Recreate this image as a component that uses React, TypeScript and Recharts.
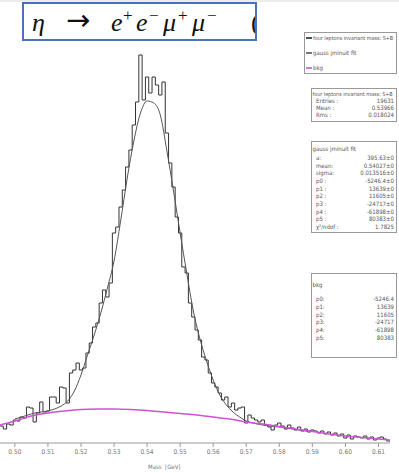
import React from "react";
import { ComposedChart, Line, XAxis, YAxis } from "recharts";

// Histogram: bins of width 0.001 starting at 0.4955
const binStart = 0.4955;
const binWidth = 0.001;
const histCounts = [
  17, 14, 19, 18, 23, 22, 26, 25, 36, 35,
  21, 30, 41, 31, 32, 46, 46, 40, 56, 55,
  40, 70, 73, 80, 73, 75, 90, 100, 116, 120,
  140, 153, 146, 160, 210, 216, 236, 253, 276, 293,
  318, 341, 388, 343, 366, 350, 366, 358, 348, 361,
  310, 280, 256, 226, 210, 176, 170, 140, 126, 113,
  103, 86, 83, 70, 60, 56, 50, 43, 46, 36,
  40, 33, 35, 36, 20, 28, 25, 23, 21, 23,
  18, 16, 13, 18, 20, 17, 14, 18, 15, 13,
  16, 12, 14, 11, 13, 12, 10, 12, 9, 11,
  8, 10, 7, 9, 5, 8, 4, 7, 6, 5,
  7, 4, 6, 3, 5, 6, 4, 2,
];

const fitX = [
  0.5, 0.502, 0.504, 0.506, 0.508, 0.51, 0.512, 0.514, 0.516, 0.518,
  0.52, 0.522, 0.524, 0.526, 0.528, 0.53, 0.532, 0.534, 0.536, 0.538,
  0.54, 0.542, 0.544, 0.546, 0.548, 0.55, 0.552, 0.554, 0.556, 0.558,
  0.56, 0.562, 0.564, 0.566, 0.568, 0.57, 0.572, 0.574, 0.576, 0.578,
  0.58, 0.582, 0.584, 0.586, 0.588, 0.59,
];
const fitY = [
  24, 26, 28, 30, 31, 32, 34, 37, 42, 52,
  68, 88, 108, 130, 155, 182, 222, 265, 302, 330,
  342, 340, 328, 292, 252, 210, 170, 132, 104, 82,
  63, 48, 38, 31, 26, 22, 20, 18.5, 17.5, 16.5,
  16, 15, 14, 13, 12, 11.5,
];

const bkgX = [
  0.4955, 0.5, 0.505, 0.51, 0.515, 0.52, 0.525, 0.53, 0.535, 0.54,
  0.545, 0.55, 0.555, 0.56, 0.565, 0.57, 0.575, 0.58, 0.585, 0.59,
  0.595, 0.6, 0.605, 0.61, 0.6135,
];
const bkgY = [
  18, 22, 27, 30, 32, 33.5, 34, 34, 33.5, 32.5,
  31, 29.5, 28, 26, 24, 21, 19, 16.5, 14, 11.5,
  9, 7, 5.5, 4, 3,
];

const xTicks = [0.5, 0.51, 0.52, 0.53, 0.54, 0.55, 0.56, 0.57, 0.58, 0.59, 0.6, 0.61];

const legendItems = [
  { label: "four leptons invariant mass: S+B", color: "#222" },
  { label: "gauss jminuit fit", color: "#555" },
  { label: "bkg", color: "#d050d8" },
];
const stats1Title = "four leptons invariant mass: S+B";
const stats1 = [
  ["Entries :", "19631"],
  ["Mean :", "0.53966"],
  ["Rms :", "0.018024"],
];
const stats2Title = "gauss jminuit fit";
const stats2 = [
  ["a:", "395.63±0"],
  ["mean:", "0.54027±0"],
  ["sigma:", "0.013516±0"],
  ["p0 :", "-5246.4±0"],
  ["p1 :", "13639±0"],
  ["p2 :", "11605±0"],
  ["p3 :", "-24717±0"],
  ["p4 :", "-61898±0"],
  ["p5 :", "80383±0"],
  ["χ²/ndof :", "1.7825"],
];
const stats3Title = "bkg";
const stats3 = [
  ["p0:", "-5246.4"],
  ["p1:", "13639"],
  ["p2:", "11605"],
  ["p3:", "-24717"],
  ["p4:", "-61898"],
  ["p5:", "80383"],
];

const histData = [
  ...histCounts.map((c, i) => ({ x: binStart + i * binWidth, y: c })),
  { x: binStart + histCounts.length * binWidth, y: histCounts[histCounts.length - 1] },
];
const fitData = fitX.map((x, i) => ({ x, y: fitY[i] }));
const bkgData = bkgX.map((x, i) => ({ x, y: bkgY[i] }));

const smallFont = "'DejaVu Sans Condensed', 'DejaVu Sans', sans-serif";
const mathFont = "'Liberation Serif', 'DejaVu Serif', serif";

function StatBox({
  top,
  height,
  title,
  titleSize,
  titleBase,
  rows,
  firstBase,
  step,
}: {
  top: number;
  height: number;
  title: string;
  titleSize?: number;
  titleBase: number;
  rows: string[][];
  firstBase: number;
  step: number;
}) {
  return (
    <g>
      <rect x={311.5} y={top + 0.5} width={85} height={height} fill="#fff" stroke="#999" strokeWidth={1} />
      <text x={312.5} y={titleBase} fontSize={titleSize ?? 6}>
        {title}
      </text>
      {rows.map((r, i) => (
        <g key={i}>
          <text x={316} y={firstBase + i * step}>
            {r[0]}
          </text>
          <text x={394} y={firstBase + i * step} textAnchor="end">
            {r[1]}
          </text>
        </g>
      ))}
    </g>
  );
}

export default function App() {
  return (
    <div
      style={{
        position: "absolute",
        left: 0,
        top: 0,
        width: 399,
        height: 473,
        background: "#fff",
        overflow: "hidden",
      }}
    >
      <div style={{ position: "absolute", left: 0, top: 0 }}>
        <ComposedChart
          width={390}
          height={473}
          margin={{ top: 8, right: 0, bottom: 0, left: 0 }}
        >
          <XAxis
            type="number"
            dataKey="x"
            domain={[0.4955, 0.6135]}
            allowDataOverflow
            ticks={xTicks}
            tickFormatter={(v: number) => v.toFixed(2)}
            height={30}
            stroke="#999"
            tickSize={4}
            tick={{ fontSize: 6.5, fill: "#777", fontFamily: smallFont }}
          />
          <YAxis type="number" domain={[0, 435]} hide allowDataOverflow />
          <Line
            data={histData}
            dataKey="y"
            type="stepAfter"
            stroke="#333"
            strokeWidth={1}
            dot={false}
            isAnimationActive={false}
          />
          <Line
            data={fitData}
            dataKey="y"
            type="monotone"
            stroke="#555"
            strokeWidth={1}
            dot={false}
            isAnimationActive={false}
          />
          <Line
            data={bkgData}
            dataKey="y"
            type="monotone"
            stroke="#d050d8"
            strokeWidth={1.5}
            dot={false}
            isAnimationActive={false}
          />
        </ComposedChart>
      </div>
      <svg
        width={399}
        height={473}
        style={{ position: "absolute", left: 0, top: 0, pointerEvents: "none" }}
      >
        <rect x={0} y={0} width={399} height={2} fill="#ececec" />
        <text x={148} y={469} fontFamily={smallFont} fontSize={6} fill="#777" style={{ whiteSpace: "pre" }}>
          {"Mass  [GeV]"}
        </text>

        {/* title box */}
        <defs>
          <clipPath id="titleClip">
            <rect x={22} y={2} width={234} height={39} />
          </clipPath>
        </defs>
        <rect x={22} y={2} width={235} height={39} fill="#fff" />
        <g clipPath="url(#titleClip)" fontFamily={mathFont} fill="#111">
          <text x={32} y={31} fontSize={26} fontStyle="italic">η</text>
          <text x={66} y={30} fontSize={29} fontFamily="'DejaVu Sans', sans-serif">→</text>
          <text x={111} y={31} fontSize={26} fontStyle="italic">e</text>
          <text x={123} y={21} fontSize={17}>+</text>
          <text x={136} y={31} fontSize={26} fontStyle="italic">e</text>
          <text x={149} y={21} fontSize={17}>−</text>
          <text x={163} y={31} fontSize={26} fontStyle="italic">μ</text>
          <text x={178} y={21} fontSize={17}>+</text>
          <text x={192} y={31} fontSize={26} fontStyle="italic">μ</text>
          <text x={207} y={21} fontSize={17}>−</text>
          <text x={251} y={31} fontSize={26}>(</text>
        </g>
        <rect x={23} y={3} width={233} height={37} fill="none" stroke="#4a72b8" strokeWidth={2} />

        <g fontFamily={smallFont} fontSize={6} fill="#555">
          {/* legend */}
          <rect x={304.5} y={32.5} width={92} height={41} fill="#fff" stroke="#999" strokeWidth={1} />
          {legendItems.map((it, i) => (
            <g key={i}>
              <line x1={306} x2={312} y1={38 + i * 15} y2={38 + i * 15} stroke={it.color} strokeWidth={1.6} />
              <text x={313} y={40 + i * 15} fontSize={i === 0 ? 5.4 : 6}>
                {it.label}
              </text>
            </g>
          ))}

          <StatBox
            top={88}
            height={33}
            title={stats1Title}
            titleSize={5.4}
            titleBase={96}
            rows={stats1}
            firstBase={103}
            step={6.8}
          />
          <StatBox
            top={141}
            height={91}
            title={stats2Title}
            titleBase={151}
            rows={stats2}
            firstBase={160}
            step={7.67}
          />
          <StatBox
            top={273}
            height={84}
            title={stats3Title}
            titleBase={287}
            rows={stats3}
            firstBase={301}
            step={7.8}
          />
        </g>
      </svg>
    </div>
  );
}
